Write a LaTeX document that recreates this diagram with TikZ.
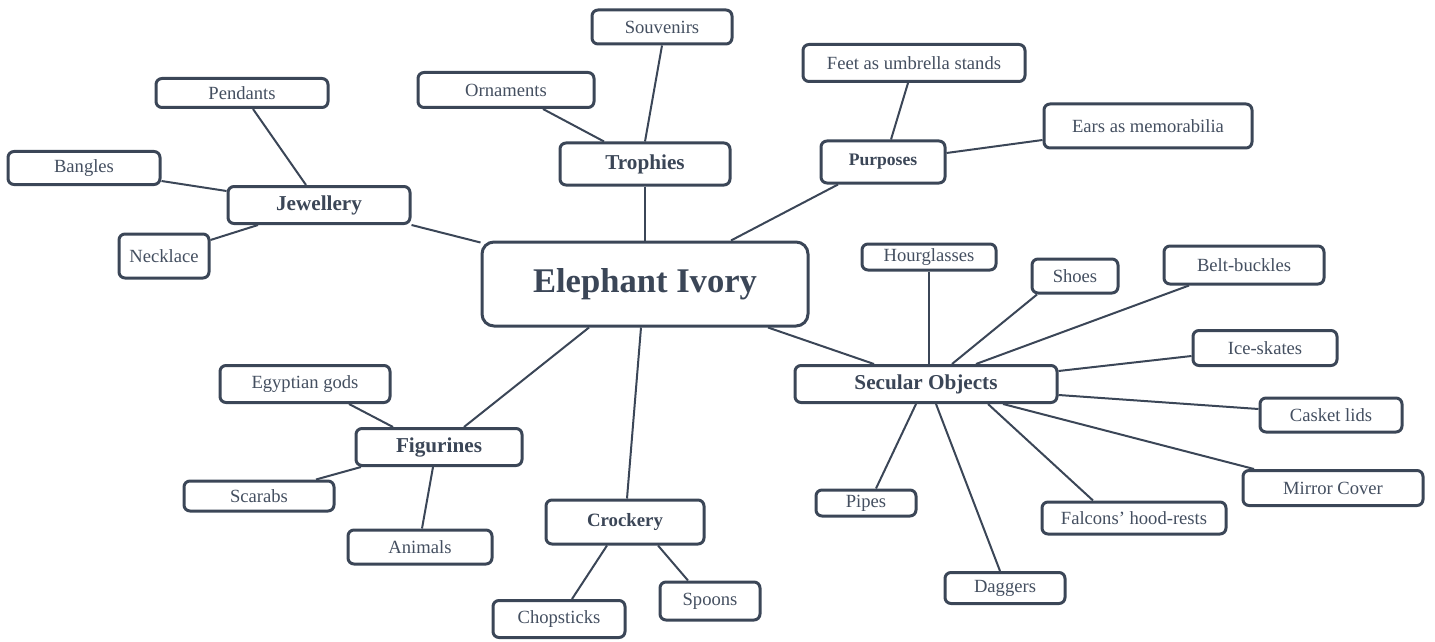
\documentclass[tikz,border=0pt]{standalone}
\usepackage{fontspec}
\setmainfont{Liberation Serif}
\usepackage{tikz}
\usetikzlibrary{calc}

\definecolor{slate}{HTML}{3B4657}
\definecolor{ink}{HTML}{444F60}

\tikzset{
  box/.style={draw=slate, line width=1.5pt, rounded corners=3pt, fill=white,
    text=ink, inner sep=0pt, font=\fontsize{9.3}{11}\selectfont},
  topic/.style={box, text=slate, font=\fontsize{10.6}{12}\selectfont\bfseries},
  hub/.style={box, text=slate, rounded corners=6pt, font=\fontsize{17.3}{20}\selectfont\bfseries},
  link/.style={draw=slate, line width=1pt}
}

\begin{document}
\begin{tikzpicture}[x=0.5pt, y=-0.5pt]
  \useasboundingbox (0,0) rectangle (1435,642);

  % centre
  \node[hub, minimum width=163pt, minimum height=42pt] (ivory) at (645,284) {Elephant Ivory};

  % trophies
  \node[topic, minimum width=85pt, minimum height=21pt] (tro) at (645,164) {Trophies};
  \node[box, minimum width=70pt, minimum height=17pt] (souv) at (662,27) {Souvenirs};
  \node[box, minimum width=88pt, minimum height=17.5pt] (orn) at (506,90) {Ornaments};

  % purposes
  \node[topic, font=\fontsize{8.8}{10}\selectfont\bfseries, minimum width=62pt, minimum height=21pt] (purp) at (883,162) {Purposes};
  \node[box, minimum width=111pt, minimum height=18.5pt] (feet) at (914,63) {Feet as umbrella stands};
  \node[box, minimum width=104pt, minimum height=22pt] (ears) at (1148,126) {Ears as memorabilia};

  % jewellery
  \node[topic, minimum width=91pt, minimum height=18.5pt] (jew) at (319,205) {Jewellery};
  \node[box, minimum width=86pt, minimum height=14.5pt] (pend) at (242,93) {Pendants};
  \node[box, minimum width=76pt, minimum height=16.5pt] (bang) at (84,168) {Bangles};
  \node[box, minimum width=45pt, minimum height=22pt] (neck) at (164,256) {Necklace};

  % secular objects
  \node[topic, minimum width=131pt, minimum height=18.5pt] (sec) at (926,384) {Secular Objects};
  \node[box, minimum width=67pt, minimum height=13pt] (hour) at (929,257) {Hourglasses};
  \node[box, minimum width=43pt, minimum height=17pt] (shoes) at (1075,276) {Shoes};
  \node[box, minimum width=80pt, minimum height=19pt] (belt) at (1244,265) {Belt-buckles};
  \node[box, minimum width=72pt, minimum height=17.5pt] (ice) at (1265,348) {Ice-skates};
  \node[box, minimum width=71pt, minimum height=17pt] (cask) at (1331,415) {Casket lids};
  \node[box, minimum width=90pt, minimum height=17.5pt] (mirr) at (1333,488) {Mirror Cover};
  \node[box, minimum width=92pt, minimum height=16pt] (falc) at (1134,518) {Falcons’ hood-rests};
  \node[box, minimum width=60pt, minimum height=15.5pt] (dag) at (1005,588) {Daggers};
  \node[box, minimum width=50pt, minimum height=13pt] (pipes) at (866,503) {Pipes};

  % figurines
  \node[topic, minimum width=83pt, minimum height=18.5pt] (fig) at (439,447) {Figurines};
  \node[box, minimum width=85pt, minimum height=18.5pt] (egy) at (305,384) {Egyptian gods};
  \node[box, minimum width=75pt, minimum height=15pt] (scar) at (259,496) {Scarabs};
  \node[box, minimum width=72pt, minimum height=17pt] (anim) at (420,547) {Animals};

  % crockery
  \node[topic, font=\fontsize{9.4}{11}\selectfont\bfseries, minimum width=79pt, minimum height=22pt] (crock) at (625,522) {Crockery};
  \node[box, minimum width=66pt, minimum height=18.5pt] (chop) at (559,619) {Chopsticks};
  \node[box, minimum width=50pt, minimum height=19pt] (spoon) at (710,601) {Spoons};

  % connectors
  \draw[link] (souv.south) -- (tro.north);
  \draw[link] ($(orn.south)+(37,0)$) -- ($(tro.north)+(-41,0)$);
  \draw[link] (tro) -- (ivory);
  \draw[link] ($(ivory.north)+(86,0)$) -- ($(purp.south)+(-45,0)$);
  \draw[link] ($(purp.north)+(8,0)$) -- ($(feet.south)+(-6,0)$);
  \draw[link] ($(purp.east)+(0,-9)$) -- ($(ears.west)+(0,14)$);

  \draw[link] (jew.south east) -- ($(ivory.north west)+(0,2)$);
  \draw[link] ($(pend.south)+(11,0)$) -- ($(jew.north)+(-13,0)$);
  \draw[link] ($(bang.east)+(0,13)$) -- ($(jew.west)+(0,-14)$);
  \draw[link] ($(neck.east)+(0,-16)$) -- ($(jew.south)+(-61,0)$);

  \draw[link] ($(ivory.south)+(123,0)$) -- ($(sec.north)+(-52,0)$);
  \draw[link] (hour.south) -- (hour.south |- sec.north);
  \draw[link] ($(shoes.south)+(-38,0)$) -- ($(sec.north)+(26,0)$);
  \draw[link] ($(belt.south)+(-55,0)$) -- ($(sec.north)+(50,0)$);
  \draw[link] ($(ice.west)+(0,8)$) -- ($(sec.east)+(0,-13)$);
  \draw[link] ($(cask.west)+(0,-6)$) -- ($(sec.east)+(0,11)$);
  \draw[link] ($(mirr.north)+(-79,0)$) -- ($(sec.south)+(77,0)$);
  \draw[link] ($(falc.north)+(-41,0)$) -- ($(sec.south)+(62,0)$);
  \draw[link] ($(dag.north)+(-5,0)$) -- ($(sec.south)+(10,0)$);
  \draw[link] ($(pipes.north)+(10,0)$) -- ($(sec.south)+(-10,0)$);

  \draw[link] ($(ivory.south)+(-56,0)$) -- ($(fig.north)+(25,0)$);
  \draw[link] ($(egy.south)+(44,0)$) -- ($(fig.north)+(-46,0)$);
  \draw[link] ($(scar.north)+(57,0)$) -- ($(fig.south)+(-78,0)$);
  \draw[link] ($(anim.north)+(2,0)$) -- ($(fig.south)+(-6,0)$);

  \draw[link] ($(ivory.south)+(-4,0)$) -- ($(crock.north)+(2,0)$);
  \draw[link] ($(chop.north)+(13,0)$) -- ($(crock.south)+(-18,0)$);
  \draw[link] ($(spoon.north)+(-22,0)$) -- ($(crock.south)+(33,0)$);
\end{tikzpicture}
\end{document}
